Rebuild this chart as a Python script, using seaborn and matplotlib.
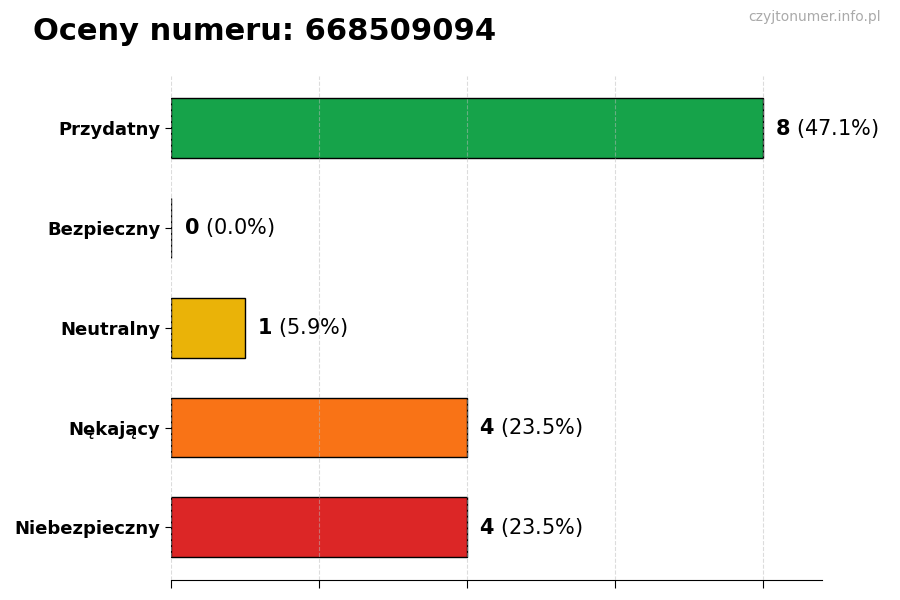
import matplotlib
matplotlib.use("Agg")
import matplotlib.pyplot as plt
import seaborn as sns
import pandas as pd

categories = ["Przydatny", "Bezpieczny", "Neutralny", "Nękający", "Niebezpieczny"]
counts = [8, 0, 1, 4, 4]
colors = ["#16a34a", "#3b82f6", "#eab308", "#f97316", "#dc2626"]
phone = "668509094"

total = sum(counts)
df = pd.DataFrame({"kategoria": categories, "liczba": counts})

sns.set_style("white")
plt.rcParams["font.family"] = ["DejaVu Sans"]
plt.rcParams["text.color"] = "black"
plt.rcParams["xtick.color"] = "black"
plt.rcParams["ytick.color"] = "black"

fig = plt.figure(figsize=(9, 6), dpi=100)
ax = fig.add_axes([0.19, 0.033, 0.723, 0.84])

sns.barplot(data=df, x="liczba", y="kategoria", hue="kategoria", palette=colors,
            legend=False, width=0.6, edgecolor="black", linewidth=1, saturation=1, ax=ax)

for i, c in enumerate(counts):
    pct = c / total * 100
    ax.annotate(f"$\\bf{{{c}}}$ ({pct:.1f}%)", xy=(c, i), xytext=(9, 0),
                textcoords="offset points", va="center", ha="left", fontsize=15,
                color="black")

ax.set_xlim(0, 8.8)
ax.set_ylim(4.53, -0.52)
ax.set_xticks([0, 2, 4, 6, 8])
ax.set_xticklabels([])
# siatka rysowana nad słupkami, lekko przezroczysta
ax.xaxis.grid(True, linestyle="--", color="#bbbbbb", alpha=0.5, linewidth=0.8)
ax.set_axisbelow(False)
ax.set_xlabel("")
ax.set_ylabel("")
for side in ["top", "right", "left"]:
    ax.spines[side].set_visible(False)
ax.spines["bottom"].set_color("black")
ax.tick_params(axis="y", left=True, length=4, color="black", labelsize=13,
               labelcolor="black")
ax.tick_params(axis="x", bottom=True, length=6, color="black")
for lbl in ax.get_yticklabels():
    lbl.set_fontweight("bold")

fig.text(0.037, 0.948, f"Oceny numeru: {phone}", fontsize=22, fontweight="bold",
         ha="left", va="center", color="black")
fig.text(0.979, 0.971, "czyjtonumer.info.pl", fontsize=10, color="#aaaaaa",
         ha="right", va="center")

fig.savefig("out.png", dpi=100)
